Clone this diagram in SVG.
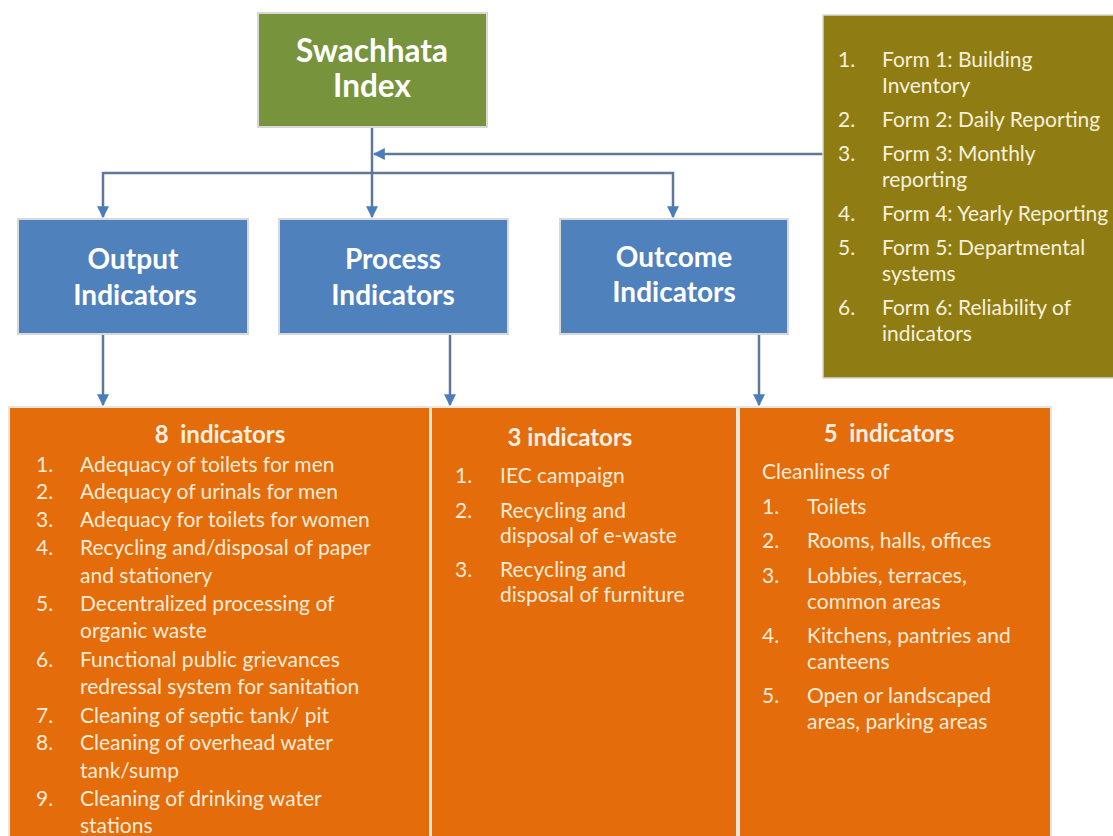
<svg xmlns="http://www.w3.org/2000/svg" width="1113" height="836" viewBox="0 0 1113 836">
<defs>
<style>
.hd{font-family:Lato,"Open Sans","Liberation Sans",sans-serif;font-weight:bold;fill:#ffffff;text-anchor:middle;}
.ol{font-family:Lato,"Open Sans","Liberation Sans",sans-serif;font-size:21px;fill:#f7f1dc;}
.or{font-family:Lato,"Open Sans","Liberation Sans",sans-serif;font-size:21px;fill:#fdebd8;}
.ot{font-family:Lato,"Open Sans","Liberation Sans",sans-serif;font-size:24px;font-weight:bold;fill:#fdf0e2;text-anchor:middle;white-space:pre;}
.bx{stroke:#d8d8d8;stroke-width:2;}
.cn{fill:none;stroke:#60779a;stroke-width:2.5;}
</style>
<marker id="ah" viewBox="0 0 10 10" refX="9" refY="5" markerUnits="userSpaceOnUse" markerWidth="12" markerHeight="13" orient="auto">
<path d="M0,0 L10,5 L0,10 z" fill="#4a7ebb"/>
</marker>
</defs>
<rect width="1113" height="836" fill="#ffffff"/>

<g id="connectors">
<path class="cn" d="M372,127 V217" marker-end="url(#ah)"/>
<path class="cn" d="M372,173 H103 V217" marker-end="url(#ah)"/>
<path class="cn" d="M372,173 H673 V217" marker-end="url(#ah)"/>
<path class="cn" d="M823,154 H374" marker-end="url(#ah)"/>
<path class="cn" d="M103,334 V405" marker-end="url(#ah)"/>
<path class="cn" d="M450,334 V405" marker-end="url(#ah)"/>
<path class="cn" d="M759,334 V405" marker-end="url(#ah)"/>
</g>

<g id="swachhata">
<rect class="bx" x="258" y="13" width="229" height="114" fill="#77933c"/>
<text class="hd" x="372" y="62" font-size="31.5">Swachhata</text>
<text class="hd" x="372" y="97" font-size="31.5">Index</text>
</g>

<g id="forms">
<rect x="823" y="15" width="292" height="363" fill="#8f7c13" stroke="#d8d8d8" stroke-width="1.5"/>
<text class="ol" x="838" y="67">1.</text><text class="ol" x="882" y="67">Form 1: Building</text>
<text class="ol" x="882" y="93">Inventory</text>
<text class="ol" x="838" y="127">2.</text><text class="ol" x="882" y="127">Form 2: Daily Reporting</text>
<text class="ol" x="838" y="161">3.</text><text class="ol" x="882" y="161">Form 3: Monthly</text>
<text class="ol" x="882" y="187">reporting</text>
<text class="ol" x="838" y="221">4.</text><text class="ol" x="882" y="221">Form 4: Yearly Reporting</text>
<text class="ol" x="838" y="255">5.</text><text class="ol" x="882" y="255">Form 5: Departmental</text>
<text class="ol" x="882" y="281">systems</text>
<text class="ol" x="838" y="315">6.</text><text class="ol" x="882" y="315">Form 6: Reliability of</text>
<text class="ol" x="882" y="341">indicators</text>
</g>

<g id="output">
<rect class="bx" x="18" y="219" width="230" height="115" fill="#4f81bd"/>
<text class="hd" x="133" y="269" font-size="28">Output</text>
<text class="hd" x="135" y="305" font-size="28">Indicators</text>
</g>

<g id="process">
<rect class="bx" x="279" y="219" width="229" height="115" fill="#4f81bd"/>
<text class="hd" x="393" y="269" font-size="28">Process</text>
<text class="hd" x="393" y="305" font-size="28">Indicators</text>
</g>

<g id="outcome">
<rect class="bx" x="560" y="219" width="228" height="115" fill="#4f81bd"/>
<text class="hd" x="674" y="267" font-size="28">Outcome</text>
<text class="hd" x="674" y="302" font-size="28">Indicators</text>
</g>

<g id="output-list">
<rect x="9" y="407" width="421" height="440" fill="#e46c0a" stroke="#e4e4e4" stroke-width="2"/>
<text class="ot" x="220" y="443">8  indicators</text>
<text class="or" x="36" y="472">1.</text><text class="or" x="80" y="472">Adequacy of toilets for men</text>
<text class="or" x="36" y="499">2.</text><text class="or" x="80" y="499">Adequacy of urinals for men</text>
<text class="or" x="36" y="527">3.</text><text class="or" x="80" y="527">Adequacy for toilets for women</text>
<text class="or" x="36" y="555">4.</text><text class="or" x="80" y="555">Recycling and/disposal of paper</text>
<text class="or" x="80" y="583">and stationery</text>
<text class="or" x="36" y="611">5.</text><text class="or" x="80" y="611">Decentralized processing of</text>
<text class="or" x="80" y="638">organic waste</text>
<text class="or" x="36" y="667">6.</text><text class="or" x="80" y="667">Functional public grievances</text>
<text class="or" x="80" y="694">redressal system for sanitation</text>
<text class="or" x="36" y="723">7.</text><text class="or" x="80" y="723">Cleaning of septic tank/ pit</text>
<text class="or" x="36" y="750">8.</text><text class="or" x="80" y="750">Cleaning of overhead water</text>
<text class="or" x="80" y="778">tank/sump</text>
<text class="or" x="36" y="806">9.</text><text class="or" x="80" y="806">Cleaning of drinking water</text>
<text class="or" x="80" y="833">stations</text>
</g>

<g id="process-list">
<rect x="431" y="407" width="306" height="440" fill="#e46c0a" stroke="#f2e6d8" stroke-width="2"/>
<text class="ot" x="570" y="446">3 indicators</text>
<text class="or" x="455" y="483">1.</text><text class="or" x="500" y="483">IEC campaign</text>
<text class="or" x="455" y="518">2.</text><text class="or" x="500" y="518">Recycling and</text>
<text class="or" x="500" y="543">disposal of e-waste</text>
<text class="or" x="455" y="577">3.</text><text class="or" x="500" y="577">Recycling and</text>
<text class="or" x="500" y="602">disposal of furniture</text>
</g>

<g id="outcome-list">
<rect x="739" y="407" width="312" height="440" fill="#e46c0a" stroke="#e4e4e4" stroke-width="2"/>
<text class="ot" x="889" y="442">5  indicators</text>
<text class="or" x="762" y="479">Cleanliness of</text>
<text class="or" x="762" y="514">1.</text><text class="or" x="807" y="514">Toilets</text>
<text class="or" x="762" y="548">2.</text><text class="or" x="807" y="548">Rooms, halls, offices</text>
<text class="or" x="762" y="583">3.</text><text class="or" x="807" y="583">Lobbies, terraces,</text>
<text class="or" x="807" y="609">common areas</text>
<text class="or" x="762" y="643">4.</text><text class="or" x="807" y="643">Kitchens, pantries and</text>
<text class="or" x="807" y="669">canteens</text>
<text class="or" x="762" y="703">5.</text><text class="or" x="807" y="703">Open or landscaped</text>
<text class="or" x="807" y="729">areas, parking areas</text>
</g>
</svg>
